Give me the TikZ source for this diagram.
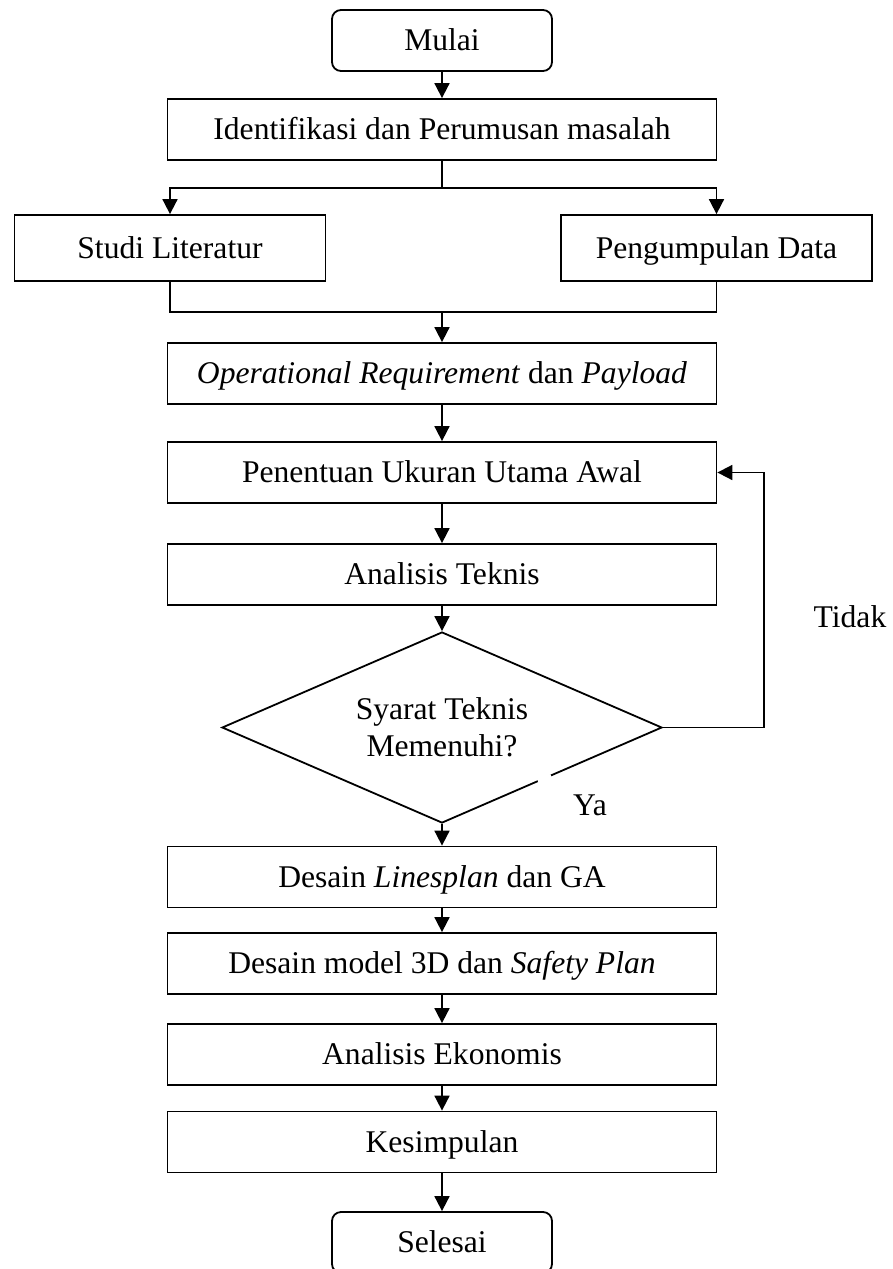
\documentclass[tikz,border=0pt]{standalone}
\usepackage{fontspec}
\setmainfont{Liberation Serif}
\usetikzlibrary{arrows.meta,shapes.geometric}
\begin{document}
\begin{tikzpicture}[x=1pt,y=-1pt,
  every node/.style={font=\fontsize{31.6}{37}\selectfont},
  box/.style={draw, rectangle, line width=1.8pt, minimum width=549pt, minimum height=61pt, inner sep=0pt, text height=27pt, text depth=7pt},
  term/.style={draw, rectangle, rounded corners=9pt, line width=1.8pt, minimum width=220pt, minimum height=61pt, inner sep=0pt, text height=27pt, text depth=7pt},
  sidebox/.style={draw, rectangle, line width=1.8pt, minimum width=311pt, minimum height=66pt, inner sep=0pt, text height=27pt, text depth=7pt},
  decision/.style={draw, diamond, aspect=2.3, line width=1.8pt, minimum width=440pt, minimum height=191pt, inner sep=0pt, align=center},
  conn/.style={line width=1.8pt},
  arr/.style={line width=1.8pt, -{Triangle[length=15pt,width=15pt]}},
  lbl/.style={inner sep=0pt}
]
\useasboundingbox (0,0) rectangle (892,1269);

\node[term] (mulai) at (442,40.5) {Mulai};
\node[box] (ident) at (442,129.5) {Identifikasi dan Perumusan masalah};
\node[sidebox] (studi) at (170,248) {Studi Literatur};
\node[sidebox] (data) at (716.5,248) {Pengumpulan Data};
\node[box] (oper) at (442,373.5) {\textit{Operational Requirement} dan \textit{Payload}};
\node[box] (pen) at (442,472.5) {Penentuan Ukuran Utama Awal};
\node[box] (tek) at (442,574.5) {Analisis Teknis};
\node[decision] (dec) at (442,727.5) {Syarat Teknis\\Memenuhi?};
\node[box] (lines) at (442,877) {Desain \textit{Linesplan} dan GA};
\node[box] (model) at (442,963.5) {Desain model 3D dan \textit{Safety Plan}};
\node[box] (eko) at (442,1054.5) {Analisis Ekonomis};
\node[box] (kes) at (442,1142) {Kesimpulan};
\node[term] (sel) at (442,1242.5) {Selesai};

\node[lbl] (tidak) at (850,617) {Tidak};
\node[lbl] (ya) at (590,805) {Ya};

% gap in the diamond edge near the "Ya" label
\draw[white, line width=4pt] (538,781.3) -- (551,775.7);

\coordinate (s1) at (442,188);
\coordinate (j1) at (442,312);
\coordinate (fb) at (764,727.5);

\draw[arr] (mulai.south) -- (ident.north);
\draw[conn] (ident.south) -- (s1);
\draw[arr] (s1) -| (studi.north);
\draw[arr] (s1) -| (data.north);
\draw[conn] (studi.south) |- (j1);
\draw[conn] (data.south) |- (j1);
\draw[arr] (j1) -- (oper.north);
\draw[arr] (oper.south) -- (pen.north);
\draw[arr] (pen.south) -- (tek.north);
\draw[arr] (tek.south) -- (dec.north);
\draw[arr] (dec.south) -- (lines.north);
\draw[arr] (lines.south) -- (model.north);
\draw[arr] (model.south) -- (eko.north);
\draw[arr] (eko.south) -- (kes.north);
\draw[arr] (kes.south) -- (sel.north);
\draw[arr] (dec.east) -- (fb) |- (pen.east);
\end{tikzpicture}
\end{document}
